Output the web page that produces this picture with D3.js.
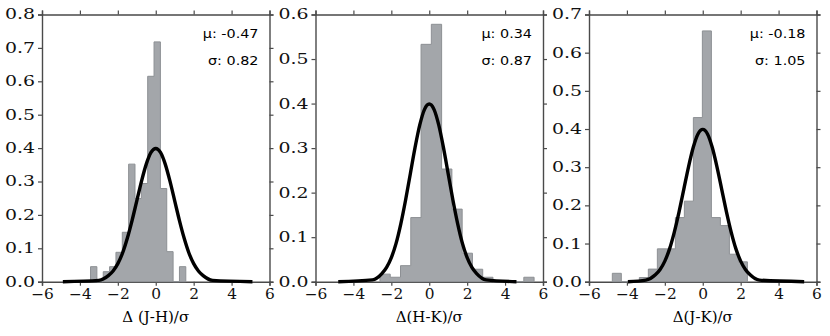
<!DOCTYPE html>
<html>
<head>
<meta charset="utf-8">
<script src="https://cdn.jsdelivr.net/npm/d3@7"></script>
<style>
  body { margin: 0; background: #fff; }
  svg { display: block; }
</style>
</head>
<body>
<svg id="vis" width="830" height="336"></svg>
<script>
// histogram bins: first edge, bin width, density per bin
let binStart = [-3.44, -2.60, -4.77];
let binWidth = [0.335, 0.542, 0.475];
let heightsJH = [0.045, 0, 0.030, 0.045, 0.088, 0.148, 0.352, 0.249, 0.294, 0.615, 0.718, 0.279, 0.090, 0, 0.045];
let heightsHK = [0.017, 0.010, 0.036, 0.144, 0.533, 0.578, 0.253, 0.163, 0.064, 0.028, 0.010, 0, 0, 0, 0.010];
let heightsJK = [0.022, 0, 0, 0.011, 0.033, 0.086, 0.086, 0.168, 0.211, 0.430, 0.657, 0.168, 0.147, 0.072, 0.052];

// the black curve (same shape, different ends)
let curveX = [-3, -2.5, -2.25, -2, -1.75, -1.5, -1.25, -1, -0.75, -0.5, -0.25, 0, 0.25, 0.5, 0.75, 1, 1.25, 1.5, 1.75, 2, 2.25, 2.5, 3];
let curveY = [0.004, 0.018, 0.032, 0.054, 0.086, 0.130, 0.183, 0.242, 0.301, 0.352, 0.387, 0.399, 0.387, 0.352, 0.301, 0.242, 0.183, 0.130, 0.086, 0.054, 0.032, 0.018, 0.004];
let curveEnds = [[-4.9, 5.1], [-4.8, 4.6], [-3.95, 5.35]];

let yMax = [0.8, 0.6, 0.7];
let xTicks = [-6, -4, -2, 0, 2, 4, 6];
let xLabels = ["\u0394 (J-H)/\u03c3", "\u0394(H-K)/\u03c3", "\u0394(J-K)/\u03c3"];
let muText = ["\u03bc: -0.47", "\u03bc: 0.34", "\u03bc: -0.18"];
let sigmaText = ["\u03c3: 0.82", "\u03c3: 0.87", "\u03c3: 1.05"];

let allHeights = [heightsJH, heightsHK, heightsJK];

let svg = d3.select("#vis");
let panelLeft = [42, 315.5, 589];
let plotWidth = 227.5;
let plotTop = 14.5, plotBottom = 281.7;
let plotHeight = plotBottom - plotTop;
let spineColor = "#4a4a4a";
let serif = "'DejaVu Serif', serif";
let sans = "'DejaVu Sans', sans-serif";
let yLabelStretch = 1.35;
let xLabelStretch = 1.1;

for (let p = 0; p < 3; p++) {
  let plot = svg.append("g")
    .attr("transform", "translate(" + panelLeft[p] + "," + plotTop + ")");

  let x = d3.scaleLinear().domain([-6, 6]).range([0, plotWidth]);
  let y = d3.scaleLinear().domain([0, yMax[p]]).range([plotHeight, 0]);
  let yTicks = d3.range(0, yMax[p] + 0.001, 0.1);

  // spines + outward ticks on all four sides
  let fmtX = function(d) { return d < 0 ? "\u2212" + Math.abs(d) : "" + d; };
  let fmtY = d3.format(".1f");
  let bottomAxis = plot.append("g").attr("transform", "translate(0," + plotHeight + ")")
    .call(d3.axisBottom(x).tickValues(xTicks).tickFormat(fmtX).tickSize(4).tickPadding(3));
  let topAxis = plot.append("g")
    .call(d3.axisTop(x).tickValues(xTicks).tickFormat("").tickSize(4));
  let leftAxis = plot.append("g")
    .call(d3.axisLeft(y).tickValues(yTicks).tickFormat(fmtY).tickSize(4).tickPadding(3));
  let rightAxis = plot.append("g").attr("transform", "translate(" + plotWidth + ",0)")
    .call(d3.axisRight(y).tickValues(yTicks).tickFormat("").tickSize(4));

  [bottomAxis, topAxis, leftAxis, rightAxis].forEach(function(a) {
    a.select(".domain").attr("stroke", spineColor).attr("stroke-width", 1.4);
    a.selectAll(".tick line").attr("stroke", spineColor).attr("stroke-width", 1.2);
    a.selectAll(".tick text")
      .attr("fill", "#111")
      .style("font-family", serif)
      .style("font-size", "14px");
  });
  // tick labels in the picture are wider than plain DejaVu Serif
  leftAxis.selectAll(".tick text")
    .attr("transform", "translate(-7,0) scale(" + yLabelStretch + ",1) translate(7,0)");
  bottomAxis.selectAll(".tick text")
    .attr("transform", "scale(" + xLabelStretch + ",1)");

  // step-filled histogram
  let hts = allHeights[p];
  let pts = [[binStart[p], 0]];
  for (let i = 0; i < hts.length; i++) {
    let e0 = binStart[p] + i * binWidth[p];
    pts.push([e0, hts[i]]);
    pts.push([e0 + binWidth[p], hts[i]]);
  }
  pts.push([binStart[p] + hts.length * binWidth[p], 0]);
  let stepLine = d3.line()
    .x(function(d) { return x(d[0]); })
    .y(function(d) { return y(d[1]); });
  plot.append("path")
    .attr("d", stepLine(pts) + "Z")
    .attr("fill", "#a3a6aa")
    .attr("stroke", "#8d9094")
    .attr("stroke-width", 1);

  // gaussian curve
  let cpts = [[curveEnds[p][0], 0]];
  for (let i = 0; i < curveX.length; i++) cpts.push([curveX[i], curveY[i]]);
  cpts.push([curveEnds[p][1], 0]);
  let curveLine = d3.line()
    .x(function(d) { return x(d[0]); })
    .y(function(d) { return y(d[1]); })
    .curve(d3.curveMonotoneX);
  plot.append("path")
    .attr("d", curveLine(cpts))
    .attr("fill", "none")
    .attr("stroke", "#000")
    .attr("stroke-width", 3.4)
    .attr("stroke-linejoin", "round");

  // mu / sigma notes
  let noteX = plotWidth - 11;
  [[muText[p], 37.7], [sigmaText[p], 65]].forEach(function(n) {
    plot.append("text")
      .attr("transform", "translate(" + noteX + "," + (n[1] - plotTop) + ") scale(1.15,1)")
      .attr("text-anchor", "end")
      .style("font-family", sans)
      .style("font-size", "12.5px")
      .text(n[0]);
  });

  // x axis title
  plot.append("text")
    .attr("x", plotWidth / 2)
    .attr("y", 322 - plotTop)
    .attr("text-anchor", "middle")
    .style("font-family", serif)
    .style("font-size", "15px")
    .text(xLabels[p]);
}
</script>
</body>
</html>
